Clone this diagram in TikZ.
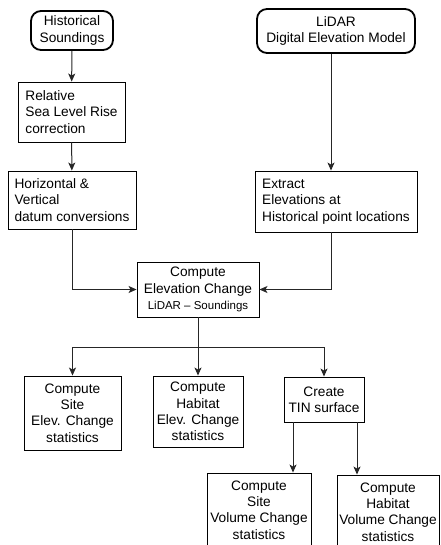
\documentclass[tikz,border=0pt]{standalone}
\usepackage{fontspec}
\setmainfont{Liberation Sans}
\usetikzlibrary{arrows.meta}
\def\sm{\fontsize{11.5}{13}\selectfont}
\def\bg{\fontsize{13.7}{16.3}\selectfont}

\begin{document}
\begin{tikzpicture}[x=1pt,y=-1pt,every node/.style={align=center,font=\bg,inner sep=0pt},src/.style={draw,rounded corners=10pt,line width=1.8pt}, box/.style={draw,line width=0.9pt}, arr/.style={line width=1pt,black!85,-{Stealth[length=8pt,width=7pt,inset=2pt]}}]
\useasboundingbox (0,0) rectangle (440,545);
\clip (0,0) rectangle (440,545);

\node[src,minimum width=82,minimum height=39] (hist) at (72,30.5) {Historical\\Soundings};
\node[src,minimum width=158,minimum height=44] (lidar) at (336,31) {LiDAR\\Digital Elevation Model};
% <- end sources
\node[box,align=left,minimum width=107,minimum height=60] (slr) at (71.5,112) {Relative\\Sea Level Rise\\correction};
\node[box,align=left,minimum width=128,minimum height=58] (datum) at (72,200) {Horizontal \&\\Vertical\\datum conversions};
\node[box,align=left,minimum width=162,minimum height=61] (extract) at (336,201.5) {Extract\\Elevations at\\Historical point locations};
\node[box,minimum width=122,minimum height=55] (elev) at (198,289.5) {Compute\\Elevation Change\\{\sm LiDAR -- Soundings}};
% <- end preparation
\node[box,minimum width=97,minimum height=74] (sitestat) at (72.5,413) {Compute\\Site\\Elev. Change\\statistics};
\node[box,minimum width=90,minimum height=71] (habstat) at (198,411.5) {Compute\\Habitat\\Elev. Change\\statistics};
\node[box,minimum width=80,minimum height=45] (tin) at (324,399.5) {Create\\TIN surface};
\node[box,minimum width=104,minimum height=74] (sitevol) at (259,510) {Compute\\Site\\Volume Change\\statistics};
\node[box,minimum width=102,minimum height=74] (habvol) at (388,512) {Compute\\Habitat\\Volume Change\\statistics};
% <- end statistics

%% connectors
\coordinate (lx) at (331,0);
\coordinate (bus) at (198,347);
\coordinate (tl) at ([xshift=-31pt]tin.south);
\coordinate (tr) at ([xshift=33pt]tin.south);
\draw[arr] (hist) -- (slr);
\draw[arr] (slr) -- (datum);
\draw[arr] (lidar.south -| lx) -- (extract.north -| lx);
\draw[arr] (datum.south) |- (elev.west);
\draw[arr] (extract.south -| lx) |- (elev.east);
\draw[arr] (elev) -- (habstat);
\draw[arr] (bus) -| (sitestat.north);
\draw[arr] (bus) -| (tin.north);
\draw[arr] (tl) -- (sitevol.north -| tl);
\draw[arr] (tr) -- (habvol.north -| tr);
\end{tikzpicture}
\end{document}
